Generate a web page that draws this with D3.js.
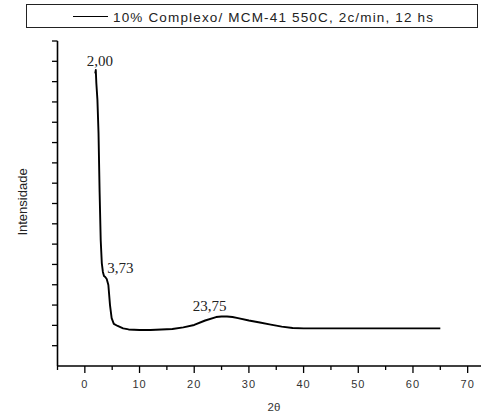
<!DOCTYPE html>
<html><head><meta charset="utf-8">
<script src="https://cdn.jsdelivr.net/npm/d3@7"></script>
<style>body{margin:0;background:#fff}svg{display:block}</style>
</head><body>
<script>
const seriesName = "10% Complexo/ MCM-41 550C, 2c/min, 12 hs";
const twoTheta = [1.9,2.0,2.1,2.3,2.5,2.7,2.9,3.1,3.3,3.5,3.73,4.0,4.3,4.6,4.9,5.3,6,7,8,10,12,14,16,18,20,22,24,25,26,27,28,30,32,34,36,38,40,45,50,55,60,65];
const intensity = [1440,1457,1393,1310,1147,857,620,507,463,443,438,428,399,300,236,207,197,185,180,177,177,180,182,190,202,224,241,244,244,241,236,224,214,204,194,187,185,185,185,185,185,185];
const peakLabels = ["2,00","3,73","23,75"];
const peakX = [2.0,3.73,23.75];
const peakY = [1457,438,244];
const xTicks = [0,10,20,30,40,50,60,70];

const W=481,H=412;
const svg=d3.select("body").append("svg").attr("width",W).attr("height",H);
const x=d3.scaleLinear().domain([-5,75]).range([57.5,495]);
const y=d3.scaleLinear().domain([0,1600]).range([366,41]);

// line
const line=d3.line().x((d,i)=>x(twoTheta[i])).y(d=>y(d));
svg.append("path").datum(intensity).attr("d",line).attr("fill","none")
  .attr("stroke","#000").attr("stroke-width",1.9).attr("stroke-linejoin","round");

// x axis
const xAxis=svg.append("g").attr("transform","translate(0,366)");
xAxis.append("line").attr("x1",57.5).attr("x2",495).attr("stroke","#000").attr("stroke-width",1.6);
const minors=d3.range(-5,76,5).filter(v=>v%10!==0);
xAxis.selectAll(".mn").data(minors).join("line").attr("x1",d=>x(d)).attr("x2",d=>x(d))
  .attr("y1",0).attr("y2",4).attr("stroke","#000").attr("stroke-width",1.3);
xAxis.selectAll(".mj").data(xTicks).join("line").attr("x1",d=>x(d)).attr("x2",d=>x(d))
  .attr("y1",0).attr("y2",7).attr("stroke","#000").attr("stroke-width",1.3);
xAxis.selectAll(".lb").data(xTicks).join("text").attr("x",d=>x(d)).attr("y",22)
  .attr("text-anchor","middle").attr("font-family","Liberation Sans, Arial, sans-serif")
  .attr("font-size",11).attr("letter-spacing","1px").attr("fill","#333").text(d=>d);
svg.append("text").attr("x",274).attr("y",411).attr("text-anchor","middle")
  .attr("font-family","Liberation Sans, Arial, sans-serif").attr("font-size",11.5).attr("fill","#333").text("2θ");

// y axis
const yAxis=svg.append("g");
yAxis.append("line").attr("x1",57.5).attr("x2",57.5).attr("y1",41).attr("y2",366).attr("stroke","#000").attr("stroke-width",1.6);
yAxis.selectAll(".yt").data(d3.range(100,1601,100)).join("line").attr("x1",52).attr("x2",57.5)
  .attr("y1",d=>y(d)).attr("y2",d=>y(d)).attr("stroke","#000").attr("stroke-width",1.3);
svg.append("text").attr("transform","translate(27,202) rotate(-90)").attr("text-anchor","middle")
  .attr("font-family","Liberation Sans, Arial, sans-serif").attr("font-size",13).attr("fill","#222").text("Intensidade");

// peak labels
const offs=[[-9,-4],[2,-4],[-22,-5]];
svg.selectAll(".pk").data(peakLabels).join("text")
  .attr("x",(d,i)=>x(peakX[i])+offs[i][0]).attr("y",(d,i)=>y(peakY[i])+offs[i][1])
  .attr("font-family","Liberation Serif, Times New Roman, serif").attr("font-size",15).attr("fill","#222").text(d=>d);

// legend
svg.append("rect").attr("x",26.5).attr("y",4.5).attr("width",451).attr("height",23).attr("fill","none").attr("stroke","#222").attr("stroke-width",1);
svg.append("line").attr("x1",73).attr("x2",108).attr("y1",16.5).attr("y2",16.5).attr("stroke","#000").attr("stroke-width",1);
svg.append("text").attr("x",113).attr("y",21.5).attr("font-family","Liberation Sans, Arial, sans-serif")
  .attr("font-size",13.5).attr("textLength",320).attr("lengthAdjust","spacing").attr("fill","#222").text(seriesName);
</script>
</body></html>
